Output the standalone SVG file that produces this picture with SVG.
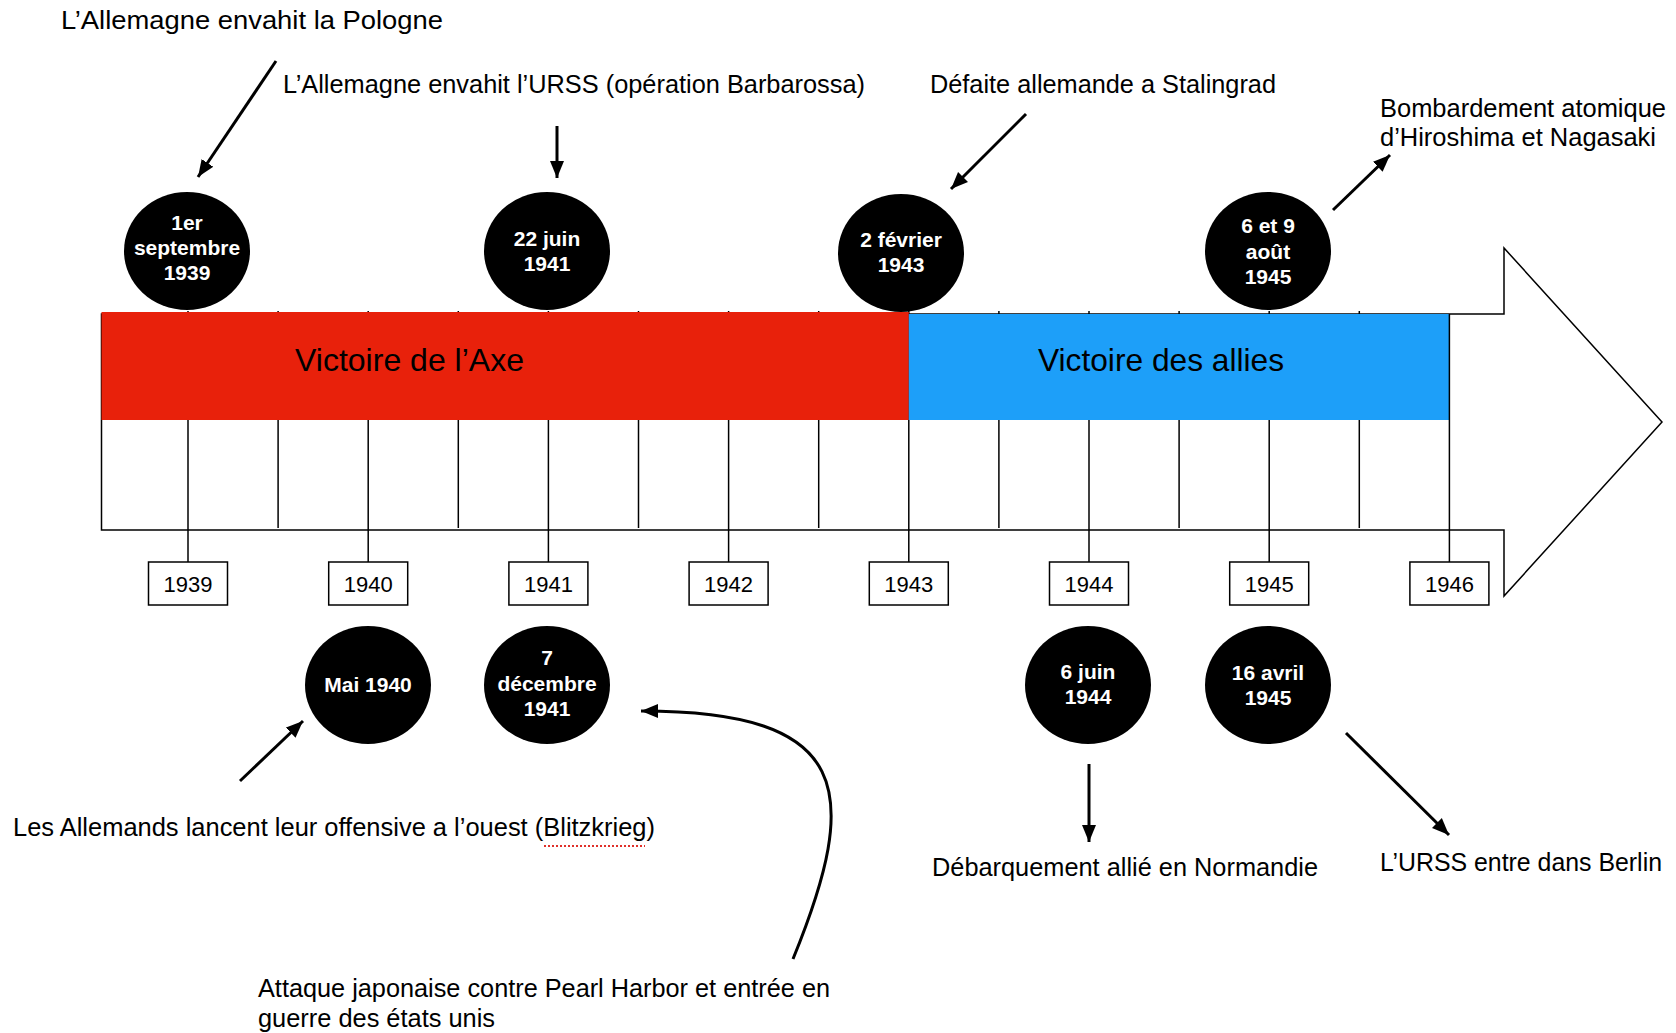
<svg xmlns="http://www.w3.org/2000/svg" width="1676" height="1033" viewBox="0 0 1676 1033">
<defs>
<style>
.lbl{font-family:"Liberation Sans",Arial,sans-serif;font-size:26.5px;fill:#000}
.rt{font-size:25.5px}
.ev{fill:#000}
.evt{font-family:"Liberation Sans",Arial,sans-serif;font-size:21px;font-weight:bold;fill:#fff;text-anchor:middle}
.yr{fill:#fff;stroke:#000;stroke-width:1.5}
.yrt{font-family:"Liberation Sans",Arial,sans-serif;font-size:22px;fill:#000;text-anchor:middle}
.tick{stroke:#000;stroke-width:1.5}
.con{stroke:#000;stroke-width:3;fill:none;marker-end:url(#ah)}
.bart{font-family:"Liberation Sans",Arial,sans-serif;font-size:32px;fill:#000}
</style>
<marker id="ah" markerUnits="userSpaceOnUse" markerWidth="18" markerHeight="16" refX="17" refY="8" orient="auto"><path d="M0,1 L17,8 L0,15 z" fill="#000"/></marker>
</defs>
<rect width="1676" height="1033" fill="#fff"/>

<g id="timeline">
<polygon points="101.5,314 1504,314 1504,248 1662,422 1504,596 1504,530 101.5,530" fill="#fff" stroke="#000" stroke-width="1.5"/>
<g class="tick">
<line x1="188" y1="311" x2="188" y2="562"/>
<line x1="278.1" y1="311" x2="278.1" y2="528"/>
<line x1="368.2" y1="311" x2="368.2" y2="562"/>
<line x1="458.3" y1="311" x2="458.3" y2="528"/>
<line x1="548.4" y1="311" x2="548.4" y2="562"/>
<line x1="638.5" y1="311" x2="638.5" y2="528"/>
<line x1="728.6" y1="311" x2="728.6" y2="562"/>
<line x1="818.7" y1="311" x2="818.7" y2="528"/>
<line x1="908.8" y1="311" x2="908.8" y2="562"/>
<line x1="998.9" y1="311" x2="998.9" y2="528"/>
<line x1="1089" y1="311" x2="1089" y2="562"/>
<line x1="1179.1" y1="311" x2="1179.1" y2="528"/>
<line x1="1269.2" y1="311" x2="1269.2" y2="562"/>
<line x1="1359.3" y1="311" x2="1359.3" y2="528"/>
</g>
<rect id="axe" x="101.5" y="312" width="807.3" height="108" fill="#E8210B"/>
<rect id="allies" x="908.8" y="314" width="540.6" height="106" fill="#1D9FF9"/>
<line class="tick" x1="1449.4" y1="314" x2="1449.4" y2="562"/>
<text class="bart" x="295" y="371" textLength="229" lengthAdjust="spacingAndGlyphs">Victoire de l’Axe</text>
<text class="bart" x="1038" y="371" textLength="246" lengthAdjust="spacingAndGlyphs">Victoire des allies</text>
</g>

<g id="years">
<g id="y1939"><rect class="yr" x="148.5" y="562" width="79" height="43"/><text class="yrt" x="188" y="592">1939</text></g>
<g id="y1940"><rect class="yr" x="328.7" y="562" width="79" height="43"/><text class="yrt" x="368.2" y="592">1940</text></g>
<g id="y1941"><rect class="yr" x="508.9" y="562" width="79" height="43"/><text class="yrt" x="548.4" y="592">1941</text></g>
<g id="y1942"><rect class="yr" x="689.1" y="562" width="79" height="43"/><text class="yrt" x="728.6" y="592">1942</text></g>
<g id="y1943"><rect class="yr" x="869.3" y="562" width="79" height="43"/><text class="yrt" x="908.8" y="592">1943</text></g>
<g id="y1944"><rect class="yr" x="1049.5" y="562" width="79" height="43"/><text class="yrt" x="1089" y="592">1944</text></g>
<g id="y1945"><rect class="yr" x="1229.7" y="562" width="79" height="43"/><text class="yrt" x="1269.2" y="592">1945</text></g>
<g id="y1946"><rect class="yr" x="1409.9" y="562" width="79" height="43"/><text class="yrt" x="1449.4" y="592">1946</text></g>
</g>

<g id="events">
<g id="e1939"><ellipse class="ev" cx="187" cy="251" rx="63" ry="59"/><text class="evt" x="187" y="230">1er</text><text class="evt" x="187" y="255">septembre</text><text class="evt" x="187" y="280">1939</text></g>
<g id="e1941a"><ellipse class="ev" cx="547" cy="251" rx="63" ry="59"/><text class="evt" x="547" y="246">22 juin</text><text class="evt" x="547" y="271">1941</text></g>
<g id="e1943"><ellipse class="ev" cx="901" cy="253" rx="63" ry="59"/><text class="evt" x="901" y="247">2 février</text><text class="evt" x="901" y="272">1943</text></g>
<g id="e1945a"><ellipse class="ev" cx="1268" cy="251" rx="63" ry="59"/><text class="evt" x="1268" y="233">6 et 9</text><text class="evt" x="1268" y="258.5">août</text><text class="evt" x="1268" y="284">1945</text></g>
<g id="e1940"><ellipse class="ev" cx="368" cy="685" rx="63" ry="59"/><text class="evt" x="368" y="692">Mai 1940</text></g>
<g id="e1941b"><ellipse class="ev" cx="547" cy="685" rx="63" ry="59"/><text class="evt" x="547" y="665">7</text><text class="evt" x="547" y="691">décembre</text><text class="evt" x="547" y="716">1941</text></g>
<g id="e1944"><ellipse class="ev" cx="1088" cy="685" rx="63" ry="59"/><text class="evt" x="1088" y="679">6 juin</text><text class="evt" x="1088" y="704">1944</text></g>
<g id="e1945b"><ellipse class="ev" cx="1268" cy="685" rx="63" ry="59"/><text class="evt" x="1268" y="680">16 avril</text><text class="evt" x="1268" y="705">1945</text></g>
</g>

<g id="labels">
<text id="l1" class="lbl" x="61" y="29" textLength="382" lengthAdjust="spacingAndGlyphs">L’Allemagne envahit la Pologne</text>
<text id="l2" class="lbl" x="283" y="93" textLength="582" lengthAdjust="spacingAndGlyphs">L’Allemagne envahit l’URSS (opération Barbarossa)</text>
<text id="l3" class="lbl" x="930" y="93" textLength="346" lengthAdjust="spacingAndGlyphs">Défaite allemande a Stalingrad</text>
<g id="l4"><text class="lbl rt" x="1380" y="117" textLength="286" lengthAdjust="spacingAndGlyphs">Bombardement atomique</text><text class="lbl rt" x="1380" y="146" textLength="276" lengthAdjust="spacingAndGlyphs">d’Hiroshima et Nagasaki</text></g>
<g id="l5"><text class="lbl" x="13" y="836" textLength="642" lengthAdjust="spacingAndGlyphs">Les Allemands lancent leur offensive a l’ouest (Blitzkrieg)</text><line x1="544" y1="846" x2="645" y2="846" stroke="#E0302A" stroke-width="2" stroke-dasharray="2,2"/></g>
<g id="l6"><text class="lbl" x="258" y="997" textLength="572" lengthAdjust="spacingAndGlyphs">Attaque japonaise contre Pearl Harbor et entrée en</text><text class="lbl" x="258" y="1027" textLength="237" lengthAdjust="spacingAndGlyphs">guerre des états unis</text></g>
<text id="l7" class="lbl" x="932" y="876" textLength="386" lengthAdjust="spacingAndGlyphs">Débarquement allié en Normandie</text>
<text id="l8" class="lbl rt" x="1380" y="871" textLength="282" lengthAdjust="spacingAndGlyphs">L’URSS entre dans Berlin</text>
</g>

<g id="connectors">
<line class="con" x1="276" y1="61" x2="198" y2="177"/>
<line class="con" x1="557" y1="126" x2="557" y2="178"/>
<line class="con" x1="1026" y1="114" x2="951" y2="189"/>
<line class="con" x1="1333" y1="210" x2="1390" y2="155"/>
<line class="con" x1="240" y1="781" x2="303" y2="721"/>
<path class="con" d="M793,959 C862,790 852,711 641,711"/>
<line class="con" x1="1089" y1="764" x2="1089" y2="842"/>
<line class="con" x1="1346" y1="733" x2="1449" y2="835"/>
</g>
</svg>
